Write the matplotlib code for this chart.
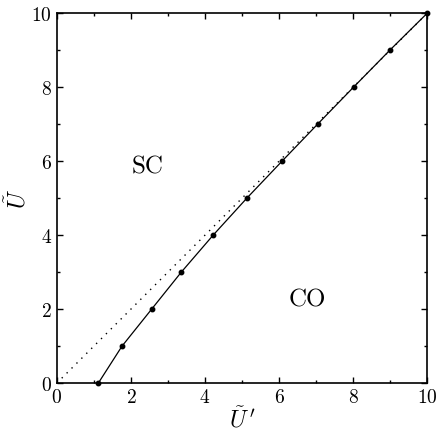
import matplotlib
matplotlib.use("Agg")
import matplotlib.pyplot as plt
import numpy as np

plt.rcParams["font.family"] = "serif"
plt.rcParams["font.serif"] = ["cmr10"]
plt.rcParams["mathtext.fontset"] = "cm"
plt.rcParams["axes.formatter.use_mathtext"] = True

# phase boundary between SC and CO
u_prime = [1.12, 1.76, 2.56, 3.36, 4.22, 5.13, 6.08, 7.04, 8.01, 8.99, 10.0]
u_tilde = [0, 1, 2, 3, 4, 5, 6, 7, 8, 9, 10]
diag = [0, 10]

fig = plt.figure(figsize=(4.37, 4.39), dpi=100)
ax = fig.add_axes([0.130, 0.125, 0.848, 0.843])

ax.plot(diag, diag, color="black", linestyle=(0, (1, 4)), linewidth=1.0)
ax.plot(u_prime, u_tilde, color="black", linewidth=0.9, marker="o",
        markersize=3.2, clip_on=False)

ax.set_xlim(0, 10)
ax.set_ylim(0, 10)
ax.set_xticks(np.arange(0, 11, 2))
ax.set_yticks(np.arange(0, 11, 2))
ax.set_xticks(np.arange(0, 11, 1), minor=True)
ax.set_yticks(np.arange(0, 11, 1), minor=True)
ax.tick_params(which="both", direction="in", top=True, right=True,
               labelsize=14, width=1.0)
ax.tick_params(which="major", length=4)
ax.tick_params(which="minor", length=2)
for s in ax.spines.values():
    s.set_linewidth(1.2)

ax.set_xlabel(r"$\tilde{U}\,'$", fontsize=17, labelpad=0)
# y label placed by hand so the tilde stays inside the figure
ax.text(-0.105, 0.5, r"$\tilde{U}$", fontsize=17, rotation=90,
        ha="center", va="center", transform=ax.transAxes)

ax.text(2.45, 5.85, "SC", fontsize=18, ha="center", va="center")
ax.text(6.75, 2.25, "CO", fontsize=18, ha="center", va="center")

fig.savefig("out.png", dpi=100)
